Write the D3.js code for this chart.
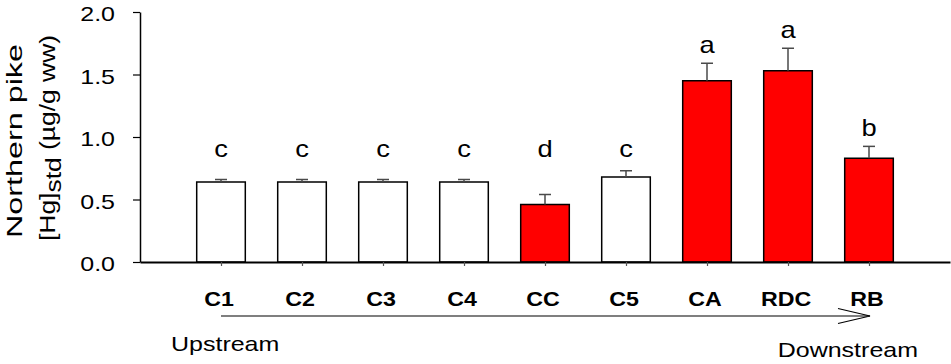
<!DOCTYPE html>
<html>

<head>
  <meta charset="utf8">
  <script src="https://d3js.org/d3.v7.min.js"></script>
  <style>
    body { margin: 0; background: #fff; }
    text { font-family: "Liberation Sans", Arial, sans-serif; fill: #000; }
  </style>
</head>

<body>
  <svg id="chart" width="951" height="364"></svg>

  <script>
    var sites = ['C1', 'C2', 'C3', 'C4', 'CC', 'C5', 'CA', 'RDC', 'RB'];
    var means = [0.64, 0.64, 0.64, 0.64, 0.46, 0.68, 1.45, 1.53, 0.83];
    var errors = [0.02, 0.02, 0.02, 0.02, 0.08, 0.05, 0.14, 0.18, 0.095];
    var impacted = [false, false, false, false, true, false, true, true, true];
    var groups = ['c', 'c', 'c', 'c', 'd', 'c', 'a', 'a', 'b'];
    var yTicks = [0, 0.5, 1.0, 1.5, 2.0];

    var data = sites.map((s, i) => ({
      site: s, mean: means[i], se: errors[i], red: impacted[i], group: groups[i]
    }));

    var chart = d3.select('#chart');
    var sx = 1.19; // the original's text is a bit wide

    var x = d3.scalePoint().domain(sites).range([140, 950]).padding(1);
    var y = d3.scaleLinear().domain([0, 2]).range([262, 12]);
    var barW = x.step() * 0.6;

    function place(sel, px, py) {
      return sel.attr('transform', (d, i) => 'translate(' + px(d, i) + ',' + py(d, i) + ') scale(' + sx + ',1)');
    }

    // y axis
    var yAxis = chart.append('g')
      .attr('transform', 'translate(140,0)')
      .call(d3.axisLeft(y).tickValues(yTicks).tickFormat(d3.format('.1f')).tickSize(7).tickSizeOuter(0));
    yAxis.select('.domain').attr('stroke', '#000').attr('stroke-width', 1.5);
    yAxis.selectAll('.tick line').attr('stroke', '#000').attr('stroke-width', 1.2);
    yAxis.selectAll('.tick text')
      .attr('font-family', '"Liberation Sans", Arial, sans-serif')
      .attr('font-size', 21)
      .attr('x', -21)
      .attr('dy', '0.42em')
      .attr('transform', 'scale(' + sx + ',1)');

    // bars
    chart.selectAll('rect.bar')
      .data(data)
      .enter()
      .append('rect')
      .attr('class', 'bar')
      .attr('x', (d) => x(d.site) - barW / 2)
      .attr('y', (d) => y(d.mean))
      .attr('width', barW)
      .attr('height', (d) => y(0) - y(d.mean))
      .attr('fill', (d) => d.red ? '#ff0000' : '#fff')
      .attr('stroke', '#000')
      .attr('stroke-width', 1.5);

    // error bars (upper only)
    var err = chart.selectAll('g.err')
      .data(data)
      .enter()
      .append('g')
      .attr('class', 'err')
      .attr('stroke', '#4a4a4a')
      .attr('stroke-width', 1.5);
    err.append('line')
      .attr('x1', (d) => x(d.site)).attr('x2', (d) => x(d.site))
      .attr('y1', (d) => y(d.mean)).attr('y2', (d) => y(d.mean + d.se));
    err.append('line')
      .attr('x1', (d) => x(d.site) - 6).attr('x2', (d) => x(d.site) + 6)
      .attr('y1', (d) => y(d.mean + d.se)).attr('y2', (d) => y(d.mean + d.se));

    // x axis
    var xAxis = chart.append('g')
      .attr('transform', 'translate(0,' + y(0) + ')')
      .call(d3.axisBottom(x).tickSize(4).tickSizeOuter(0).tickFormat(''));
    xAxis.select('.domain').attr('stroke', '#000').attr('stroke-width', 2);
    xAxis.selectAll('.tick line').attr('stroke', '#555').attr('stroke-width', 1.2);

    // significance letters
    place(chart.selectAll('text.grp')
      .data(data)
      .enter()
      .append('text')
      .attr('class', 'grp')
      .attr('text-anchor', 'middle')
      .attr('font-size', 23)
      .text((d) => d.group),
      (d) => x(d.site), (d) => y(Math.max(d.mean + d.se, 0.76) + 0.08));

    // site labels
    place(chart.selectAll('text.site')
      .data(data)
      .enter()
      .append('text')
      .attr('class', 'site')
      .attr('text-anchor', 'middle')
      .attr('font-size', 19.5)
      .attr('font-weight', 'bold')
      .text((d) => d.site),
      (d) => x(d.site) - 2, () => 306);

    // flow arrow
    var x0 = x(sites[0]), x1 = x(sites[sites.length - 1]) + 1;
    chart.append('line')
      .attr('x1', x0).attr('x2', x1)
      .attr('y1', 316).attr('y2', 316)
      .attr('stroke', '#000').attr('stroke-width', 1.2);
    chart.append('polyline')
      .attr('points', [[x1 - 32, 308.5], [x1, 316], [x1 - 32, 323.5]].join(' '))
      .attr('fill', 'none').attr('stroke', '#000').attr('stroke-width', 1.2);

    place(chart.append('text').datum(0).attr('font-size', 21).text('Upstream'),
      () => x0 - 50, () => 351);
    place(chart.append('text').datum(0).attr('font-size', 21).attr('text-anchor', 'end').text('Downstream'),
      () => x1 + 48, () => 357);

    // y axis title
    chart.append('text')
      .attr('transform', 'translate(22,' + (y(1) + 4) + ') rotate(-90)')
      .attr('text-anchor', 'middle')
      .attr('font-size', 22)
      .attr('textLength', 194)
      .attr('lengthAdjust', 'spacingAndGlyphs')
      .text('Northern pike');
    var t2 = chart.append('text')
      .attr('transform', 'translate(55,' + (y(1) + 1) + ') rotate(-90)')
      .attr('text-anchor', 'middle')
      .attr('font-size', 22)
      .attr('textLength', 206)
      .attr('lengthAdjust', 'spacingAndGlyphs');
    t2.append('tspan').text('[Hg]');
    t2.append('tspan').attr('dy', '0.25em').text('std');
    t2.append('tspan').attr('dy', '-0.25em').text(' (µg/g ww)');
  </script>
</body>

</html>
